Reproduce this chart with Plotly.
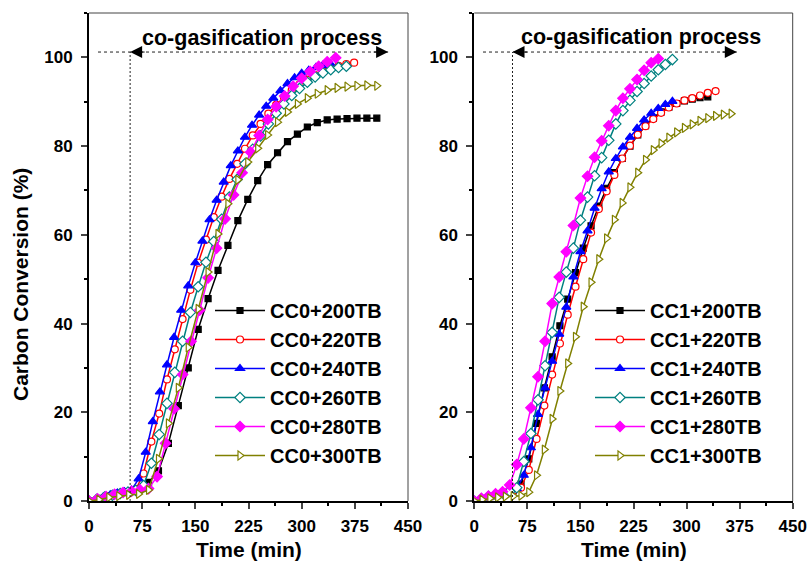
import plotly.graph_objects as go

# ---------------- Left panel: CC0 blends ----------------
t_cc0_200 = [0, 14, 28, 42, 56, 70, 84, 98, 112, 126, 140, 154, 168, 182, 196, 210, 224, 238, 252, 266,
             280, 294, 308, 322, 336, 350, 364, 378, 392, 406]
v_cc0_200 = [0, 0.6, 1.2, 1.7, 2.1, 2.5, 4.2, 6.8, 13.0, 21.5, 30.0, 38.7, 45.6, 52.0, 57.6, 63.2, 68.0, 72.2, 75.8, 78.5,
             81.0, 82.7, 84.3, 85.3, 85.9, 86.1, 86.2, 86.3, 86.3, 86.3]

t_cc0_220 = [0, 11, 22, 33, 44, 55, 66, 77, 88, 99, 110, 121, 132, 143, 154, 165, 176, 187, 198, 209,
             220, 231, 242, 253, 264, 275, 286, 297, 308, 319, 330, 341, 352, 363, 374]
v_cc0_220 = [0, 0.4, 0.9, 1.3, 1.7, 2.0, 2.6, 6.2, 13.4, 19.7, 27.4, 34.2, 41.0, 47.6, 53.7, 58.9, 64.0, 68.6, 72.6, 76.0,
             79.4, 82.4, 85.0, 87.3, 89.3, 91.0, 92.6, 93.9, 95.0, 96.0, 96.9, 97.6, 98.1, 98.5, 98.8]

t_cc0_240 = [0, 10, 20, 30, 40, 50, 60, 70, 80, 90, 100, 110, 120, 130, 140, 150, 160, 170, 180, 190,
             200, 210, 220, 230, 240, 250, 260, 270, 280, 290, 300, 310, 320, 330, 340]
v_cc0_240 = [0, 0.4, 0.9, 1.4, 1.8, 2.1, 2.5, 5.0, 11.0, 17.9, 24.6, 30.7, 36.9, 43.0, 48.5, 53.7, 58.6, 63.4, 67.8, 71.9,
             75.6, 78.9, 82.0, 84.7, 87.0, 89.0, 90.8, 92.5, 94.1, 95.4, 96.4, 97.1, 97.7, 98.2, 98.7]

t_cc0_260 = [0, 11, 22, 33, 44, 55, 66, 77, 88, 99, 110, 121, 132, 143, 154, 165, 176, 187, 198, 209,
             220, 231, 242, 253, 264, 275, 286, 297, 308, 319, 330, 341, 352, 363]
v_cc0_260 = [0, 0.4, 0.9, 1.3, 1.7, 2.0, 2.4, 3.5, 8.5, 15.0, 22.0, 29.0, 36.0, 42.5, 48.3, 53.8, 58.5, 63.5, 68.5, 72.5,
             76.0, 79.3, 82.3, 85.0, 87.4, 89.5, 91.4, 93.0, 94.4, 95.6, 96.5, 97.2, 97.7, 98.0]

t_cc0_280 = [0, 12, 24, 36, 48, 60, 72, 84, 96, 108, 120, 132, 144, 156, 168, 180, 192, 204, 216, 228,
             240, 252, 264, 276, 288, 300, 312, 324, 336, 348]
v_cc0_280 = [0, 0.5, 1.0, 1.5, 1.9, 2.2, 2.5, 2.8, 5.5, 13.0, 20.8, 28.5, 36.0, 43.0, 50.3, 57.0, 63.6, 69.0, 74.0, 78.6,
             82.4, 86.0, 88.9, 91.3, 93.5, 95.3, 96.8, 98.0, 99.0, 99.9]

t_cc0_300 = [0, 14, 28, 42, 56, 70, 84, 98, 112, 126, 140, 154, 168, 182, 196, 210, 224, 238, 252, 266,
             280, 294, 308, 322, 336, 350, 364, 378, 392, 406]
v_cc0_300 = [0, 0.3, 0.8, 1.1, 1.4, 1.6, 2.5, 9.5, 17.5, 25.5, 34.6, 43.3, 51.6, 60.2, 67.0, 72.4, 76.4, 79.5, 82.5, 85.4,
             87.7, 89.5, 90.8, 91.8, 92.6, 93.1, 93.4, 93.6, 93.7, 93.6]

# ---------------- Right panel: CC1 blends ----------------
t_cc1_200 = [0, 11, 22, 33, 44, 55, 66, 77, 88, 99, 110, 121, 132, 143, 154, 165, 176, 187, 198, 209,
             220, 231, 242, 253, 264, 275, 286, 297, 308, 319, 330]
v_cc1_200 = [0, 0.5, 1.0, 1.5, 1.9, 2.3, 3.8, 9.5, 17.5, 25.5, 32.5, 39.5, 45.5, 51.5, 57.0, 62.0, 66.5, 70.5, 74.0, 77.2,
             80.0, 82.5, 84.6, 86.3, 87.7, 88.8, 89.6, 90.2, 90.6, 90.9, 91.1]

t_cc1_220 = [0, 11, 22, 33, 44, 55, 66, 77, 88, 99, 110, 121, 132, 143, 154, 165, 176, 187, 198, 209,
             220, 231, 242, 253, 264, 275, 286, 297, 308, 319, 330, 341]
v_cc1_220 = [0, 0.5, 1.0, 1.5, 1.9, 2.3, 3.0, 7.0, 14.0, 21.5, 28.5, 35.5, 42.0, 48.3, 54.5, 60.5, 65.8, 69.8, 73.5, 77.2,
             80.1, 82.6, 84.5, 86.1, 87.5, 88.7, 89.6, 90.3, 90.8, 91.4, 92.0, 92.4]

t_cc1_240 = [0, 10, 20, 30, 40, 50, 60, 70, 80, 90, 100, 110, 120, 130, 140, 150, 160, 170, 180, 190,
             200, 210, 220, 230, 240, 250, 260, 270, 280]
v_cc1_240 = [0, 0.5, 0.9, 1.4, 1.8, 2.2, 2.8, 5.8, 12.0, 19.5, 25.5, 31.5, 37.6, 43.7, 50.5, 56.2, 60.9, 66.0, 70.4, 74.2,
             77.2, 79.8, 82.0, 84.0, 85.9, 87.4, 88.5, 89.4, 90.1]

t_cc1_260 = [0, 10, 20, 30, 40, 50, 60, 70, 80, 90, 100, 110, 120, 130, 140, 150, 160, 170, 180, 190,
             200, 210, 220, 230, 240, 250, 260, 270, 280]
v_cc1_260 = [0, 0.5, 1.0, 1.4, 1.8, 2.2, 3.0, 8.9, 15.2, 22.8, 30.5, 38.0, 45.9, 51.6, 57.0, 63.3, 68.5, 73.3, 77.4, 81.3,
             85.0, 88.0, 90.3, 92.3, 94.1, 95.8, 97.2, 98.4, 99.5]

t_cc1_280 = [0, 10, 20, 30, 40, 50, 60, 70, 80, 90, 100, 110, 120, 130, 140, 150, 160, 170, 180, 190,
             200, 210, 220, 230, 240, 250, 260]
v_cc1_280 = [0, 0.6, 1.1, 1.6, 2.1, 3.6, 8.2, 14.0, 21.0, 28.0, 36.0, 44.5, 50.5, 56.2, 62.1, 68.3, 73.2, 77.5, 81.2, 84.6,
             88.0, 90.8, 92.9, 95.0, 97.1, 98.8, 99.7]

t_cc1_300 = [0, 11, 22, 33, 44, 55, 66, 77, 88, 99, 110, 121, 132, 143, 154, 165, 176, 187, 198, 209,
             220, 231, 242, 253, 264, 275, 286, 297, 308, 319, 330, 341, 352, 363]
v_cc1_300 = [0, 0.3, 0.6, 0.8, 1.0, 1.1, 1.2, 2.0, 5.8, 11.6, 18.5, 24.8, 31.0, 37.0, 43.8, 49.3, 54.5, 59.2, 63.4, 67.2,
             70.7, 74.0, 76.9, 79.1, 80.6, 81.9, 83.1, 84.1, 84.9, 85.7, 86.3, 86.8, 87.1, 87.3]

labels_left = ["CC0+200TB", "CC0+220TB", "CC0+240TB", "CC0+260TB", "CC0+280TB", "CC0+300TB"]
labels_right = ["CC1+200TB", "CC1+220TB", "CC1+240TB", "CC1+260TB", "CC1+280TB", "CC1+300TB"]

x_ticks = [0, 75, 150, 225, 300, 375, 450]
y_ticks = [0, 20, 40, 60, 80, 100]

annot_text = "co-gasification process"
start_left = 58      # start of co-gasification (min), left panel
start_right = 54     # right panel

colors = ["#000000", "#FF0000", "#0000FF", "#008080", "#FF00FF", "#808000"]
symbols = ["square", "circle", "triangle-up", "diamond", "diamond", "triangle-right"]
filled = [True, False, True, False, True, False]
msize = [6, 7, 8, 8, 8, 8]

left_data = [(t_cc0_200, v_cc0_200), (t_cc0_220, v_cc0_220), (t_cc0_240, v_cc0_240),
             (t_cc0_260, v_cc0_260), (t_cc0_280, v_cc0_280), (t_cc0_300, v_cc0_300)]
right_data = [(t_cc1_200, v_cc1_200), (t_cc1_220, v_cc1_220), (t_cc1_240, v_cc1_240),
              (t_cc1_260, v_cc1_260), (t_cc1_280, v_cc1_280), (t_cc1_300, v_cc1_300)]

FONT = "Liberation Sans, Arial, sans-serif"

fig = go.Figure()

def add_series(data, labels, xa, ya, legend):
    for i, ((t, v), name) in enumerate(zip(data, labels)):
        fig.add_trace(go.Scatter(
            x=t, y=v, name=name, mode="lines+markers",
            xaxis=xa, yaxis=ya, legend=legend,
            line=dict(color=colors[i], width=1.5),
            marker=dict(symbol=symbols[i], size=msize[i],
                        color=colors[i] if filled[i] else "white",
                        line=dict(color=colors[i], width=1.2)),
        ))

add_series(left_data, labels_left, "x", "y", "legend")
add_series(right_data, labels_right, "x2", "y2", "legend2")

axis_common = dict(
    range=[0, 450], tickvals=x_ticks, ticks="outside", ticklen=6, tickwidth=2, automargin=False,
    showline=True, linewidth=2, linecolor="black", showgrid=False, zeroline=False,
    tickfont=dict(family=FONT, size=17, color="black", weight="bold"),
    minor=dict(dtick=37.5, tick0=0, ticks="outside", ticklen=3, tickwidth=2, tickcolor="black", showgrid=False),
    ticklabelstandoff=3,
)
yaxis_common = dict(
    range=[0, 110], tickvals=y_ticks, ticks="outside", ticklen=6, tickwidth=2, automargin=False,
    showline=True, linewidth=2, linecolor="black", showgrid=False, zeroline=False,
    tickfont=dict(family=FONT, size=17, color="black", weight="bold"),
    minor=dict(dtick=10, tick0=0, ticks="outside", ticklen=3, tickwidth=2, tickcolor="black", showgrid=False),
    ticklabelstandoff=5,
)

LEG_FONT = dict(family=FONT, size=20, color="black", weight="bold")
ydom = [1 - 501 / 562, 1 - 13 / 562]
fig.update_layout(
    width=809, height=562, margin=dict(l=0, r=0, t=0, b=0, autoexpand=False),
    paper_bgcolor="white", plot_bgcolor="white",
    xaxis=dict(domain=[89 / 809, 408 / 809], anchor="y", **axis_common),
    yaxis=dict(domain=ydom, anchor="x", **yaxis_common),
    xaxis2=dict(domain=[474.3 / 809, 792.7 / 809], anchor="y2", **axis_common),
    yaxis2=dict(domain=ydom, anchor="x2", **yaxis_common),
    legend=dict(x=210 / 809, y=1 - 291 / 562, xanchor="left", yanchor="top",
                bgcolor="rgba(0,0,0,0)", font=LEG_FONT, itemwidth=50, tracegroupgap=0),
    legend2=dict(x=590 / 809, y=1 - 291 / 562, xanchor="left", yanchor="top",
                 bgcolor="rgba(0,0,0,0)", font=LEG_FONT, itemwidth=50, tracegroupgap=0),
    showlegend=True,
)

shapes = []
annotations = []
for xa, ya, start, xr0, xr1 in [("x", "y", start_left, 12.7, 422), ("x2", "y2", start_right, 12.3, 371)]:
    xd = xa + " domain"
    yd = ya + " domain"
    # top/right frame lines
    shapes.append(dict(type="line", xref=xd, yref=yd, x0=0, x1=1, y0=1, y1=1, line=dict(color="#444", width=1)))
    shapes.append(dict(type="line", xref=xd, yref=yd, x0=1, x1=1, y0=0, y1=1, line=dict(color="#444", width=1)))
    # dashed lines
    shapes.append(dict(type="line", xref=xa, yref=ya, x0=xr0, x1=xr1, y0=101.2, y1=101.2,
                       line=dict(color="#222", width=1, dash="3px,3px")))
    shapes.append(dict(type="line", xref=xa, yref=ya, x0=start, x1=start, y0=0, y1=101.2,
                       line=dict(color="#222", width=1, dash="2px,2px")))
    # arrows
    annotations.append(dict(xref=xa, yref=ya, x=start, y=101.2, ax=16, ay=0, text="", showarrow=True,
                            arrowhead=2, arrowsize=2.4, arrowwidth=1, arrowcolor="black"))
    annotations.append(dict(xref=xa, yref=ya, x=xr1, y=101.2, ax=-16, ay=0, text="", showarrow=True,
                            arrowhead=2, arrowsize=2.4, arrowwidth=1, arrowcolor="black"))

annotations.append(dict(xref="x", yref="y", x=244, y=104.3, text=annot_text, showarrow=False,
                        xanchor="center", yanchor="middle",
                        font=dict(family=FONT, size=21.5, color="black", weight="bold")))
annotations.append(dict(xref="x2", yref="y2", x=235.6, y=104.5, text=annot_text, showarrow=False,
                        xanchor="center", yanchor="middle",
                        font=dict(family=FONT, size=21.5, color="black", weight="bold")))
# axis titles
for xc in (249, 634):
    annotations.append(dict(xref="paper", yref="paper", x=xc / 809, y=1 - 549 / 562, text="Time (min)",
                            showarrow=False, xanchor="center", yanchor="middle",
                            font=dict(family=FONT, size=21, color="black", weight="bold")))
annotations.append(dict(xref="paper", yref="paper", x=20 / 809, y=1 - 285 / 562, text="Carbon Conversion (%)",
                        showarrow=False, textangle=-90, xanchor="center", yanchor="middle",
                        font=dict(family=FONT, size=21, color="black", weight="bold")))

fig.update_layout(shapes=shapes, annotations=annotations)
fig.write_html("out.html", config={"displayModeBar": False},
               post_script="document.body.style.margin='0px';")
